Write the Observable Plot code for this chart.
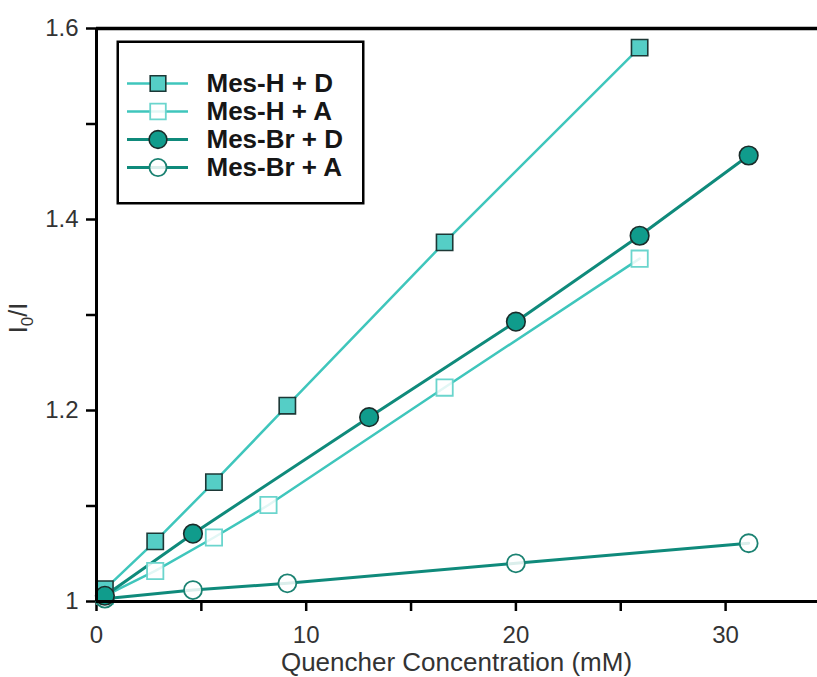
<!DOCTYPE html>
<html><head><meta charset="utf-8">
<script src="https://cdn.jsdelivr.net/npm/d3@7"></script>
<script src="https://cdn.jsdelivr.net/npm/@observablehq/plot@0.6"></script>
<style>
body{margin:0;background:#fff;}
#wrap{position:relative;width:817px;height:677px;font-family:"Liberation Sans",Arial,sans-serif;}
#legend{position:absolute;left:116px;top:40px;}
</style></head><body><div id="wrap"><div id="chart"></div><div id="legend"></div></div>
<script>
// ---- data ----
const seriesNames = ["Mes-H + D", "Mes-H + A", "Mes-Br + D", "Mes-Br + A"];
const mesHD_x = [0.4, 2.8, 5.6, 9.1, 16.6, 25.9];
const mesHD_y = [1.013, 1.063, 1.125, 1.205, 1.376, 1.580];
const mesHA_x = [0.4, 2.8, 5.6, 8.2, 16.6, 25.9];
const mesHA_y = [1.006, 1.032, 1.067, 1.101, 1.224, 1.359];
const mesBrD_x = [0.4, 4.6, 13.0, 20.0, 25.9, 31.1];
const mesBrD_y = [1.006, 1.071, 1.193, 1.293, 1.383, 1.467];
const mesBrA_x = [0.4, 4.6, 9.1, 20.0, 31.1];
const mesBrA_y = [1.003, 1.012, 1.019, 1.040, 1.061];
const xTicks = [0, 5, 10, 15, 20, 25, 30];
const xTickLabels = ["0", "", "10", "", "20", "", "30"];
const yTicks = [1, 1.1, 1.2, 1.3, 1.4, 1.5, 1.6];
const yTickLabels = ["1", "", "1.2", "", "1.4", "", "1.6"];
const xTitle = "Quencher Concentration (mM)";

// ---- styles ----
const LIGHT = "#3fc6bc", DARK = "#0f8a7b";
const sty = {
  "Mes-H + D": {line: LIGHT, lw: 2.5, symbol: "square", fill: "#55cec6", stroke: "#1c3836", sw: 1.6, r: 9.2, fo: 1},
  "Mes-H + A": {line: LIGHT, lw: 2.5, symbol: "square", fill: "#ffffff", stroke: "#6bd5cd", sw: 1.8, r: 9.2, fo: 0.85},
  "Mes-Br + D": {line: DARK, lw: 3, symbol: "circle", fill: "#109c8c", stroke: "#1a2c2a", sw: 1.6, r: 9.3, fo: 1},
  "Mes-Br + A": {line: DARK, lw: 3, symbol: "circle", fill: "#ffffff", stroke: "#1b8272", sw: 1.8, r: 9, fo: 0.85}
};
const tables = {
  "Mes-H + D": d3.zip(mesHD_x, mesHD_y).map(([x, y]) => ({x, y})),
  "Mes-H + A": d3.zip(mesHA_x, mesHA_y).map(([x, y]) => ({x, y})),
  "Mes-Br + D": d3.zip(mesBrD_x, mesBrD_y).map(([x, y]) => ({x, y})),
  "Mes-Br + A": d3.zip(mesBrA_x, mesBrA_y).map(([x, y]) => ({x, y}))
};
const lineOrder = ["Mes-H + D", "Mes-H + A", "Mes-Br + A", "Mes-Br + D"];
const dotOrder = ["Mes-H + A", "Mes-Br + A", "Mes-H + D", "Mes-Br + D"];

const W = 817, H = 677, ML = 96, MT = 28, MB = 76, MR = 0;
const pxPerUnit = 20.97;
const xMax = (W - ML - MR) / pxPerUnit;

const chart = Plot.plot({
  width: W, height: H,
  marginLeft: ML, marginRight: MR, marginTop: MT, marginBottom: MB,
  style: {fontFamily: '"Liberation Sans", Arial, sans-serif', background: "white", color: "black", overflow: "visible"},
  x: {domain: [0, xMax]},
  y: {domain: [1, 1.6]},
  marks: [
    Plot.axisX({ticks: xTicks, tickFormat: d => xTickLabels[xTicks.indexOf(d)], tickSize: 10, tickPadding: 14, strokeWidth: 2.5, stroke: "black", fill: "#333", fontSize: 24, label: null}),
    Plot.axisY({ticks: yTicks, tickFormat: d => yTickLabels[yTicks.findIndex(t => Math.abs(t - d) < 1e-9)], tickSize: 10, tickPadding: 8, strokeWidth: 2.5, stroke: "black", fill: "#333", fontSize: 24, label: null}),
    ...lineOrder.map(n => Plot.line(tables[n], {x: "x", y: "y", stroke: sty[n].line, strokeWidth: sty[n].lw})),
    ...dotOrder.map(n => Plot.dot(tables[n], {x: "x", y: "y", symbol: sty[n].symbol, r: sty[n].r, fill: sty[n].fill, fillOpacity: sty[n].fo, stroke: sty[n].stroke, strokeWidth: sty[n].sw})),
    Plot.ruleX([0], {stroke: "black", strokeWidth: 3}),
    Plot.ruleY([1], {stroke: "black", strokeWidth: 3}),
    Plot.ruleY([1.6], {stroke: "black", strokeWidth: 3.5})
  ]
});
document.getElementById("chart").appendChild(chart);

const svg = d3.select(chart);
svg.append("text")
  .attr("x", (ML + W - MR) / 2).attr("y", 671)
  .attr("text-anchor", "middle").attr("font-size", 26).attr("fill", "#333")
  .text(xTitle);
const yl = svg.append("text")
  .attr("transform", "translate(27,318) rotate(-90)")
  .attr("text-anchor", "middle").attr("font-size", 25).attr("fill", "#333");
yl.append("tspan").text("I");
yl.append("tspan").attr("font-size", 17).attr("dy", 6).text("0");
yl.append("tspan").attr("dy", -6).text("/I");

// ---- legend ----
const LW = 248, LH = 164;
const legend = Plot.plot({
  width: LW, height: LH, margin: 0,
  style: {fontFamily: '"Liberation Sans", Arial, sans-serif', background: "white", overflow: "visible"},
  x: {domain: [0, LW], range: [0, LW], axis: null},
  y: {type: "point", domain: seriesNames, range: [28, 142], axis: null},
  marks: [
    Plot.frame({stroke: "black", strokeWidth: 2.5, inset: 1.25}),
    ...seriesNames.map(n => Plot.ruleY([n], {y: d => d, x1: 11, x2: 72, stroke: sty[n].line, strokeWidth: sty[n].lw})),
    ...seriesNames.map(n => Plot.dot([n], {x: 41.5, y: d => d, symbol: sty[n].symbol, r: sty[n].r - 0.4, fill: sty[n].fill, fillOpacity: sty[n].fo, stroke: sty[n].stroke, strokeWidth: sty[n].sw})),
    Plot.text(seriesNames, {x: 90, y: d => d, text: d => d, textAnchor: "start", fontWeight: "bold", fontSize: 26, fill: "#161616"})
  ]
});
document.getElementById("legend").appendChild(legend);
</script>
</body></html>
